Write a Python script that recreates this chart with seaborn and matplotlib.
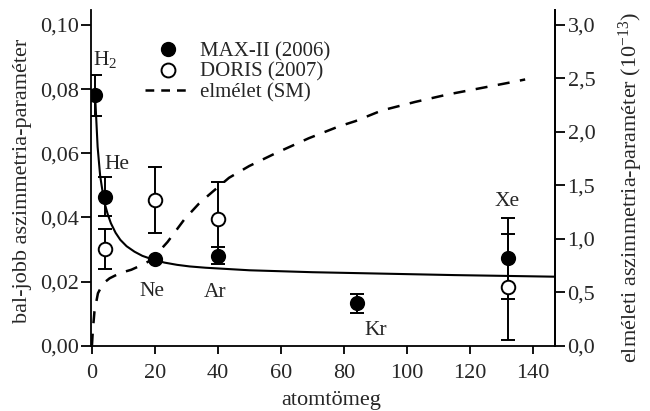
import numpy as np
import pandas as pd
import matplotlib
matplotlib.use("Agg")
import matplotlib.pyplot as plt
from matplotlib.ticker import FuncFormatter, MultipleLocator
from matplotlib.lines import Line2D
import seaborn as sns

# ---- data ----
max_mass = [1, 4, 20, 40, 84, 132]
max_val = [0.078, 0.0465, 0.027, 0.0281, 0.0132, 0.0272]
max_err = [0.0063, 0.006, 0.0, 0.0026, 0.003, 0.0125]

doris_mass = [4, 20, 40, 132]
doris_val = [0.0301, 0.0454, 0.0395, 0.0182]
doris_err = [0.0062, 0.0103, 0.0116, 0.0165]

fit_x = [1, 1.8, 2.6, 3.3, 4, 5, 6, 7.5, 9, 11, 13.5, 16, 19.5, 23, 27, 31, 36, 43,
         50, 60, 70, 85, 100, 115, 128, 147]
fit_y = [0.078, 0.062, 0.053, 0.0485, 0.0445, 0.0410, 0.0382, 0.0352, 0.0330, 0.0310,
         0.0293, 0.0280, 0.0268, 0.0259, 0.0252, 0.0247, 0.0243, 0.0239,
         0.0235, 0.0232, 0.0229, 0.0226, 0.0223, 0.0220, 0.0218, 0.0215]

sm_x = [0.0, 0.3, 0.8, 1.9, 3.5, 5.6, 9, 12.5, 15.5, 18.8, 24, 29.3, 34, 38.3, 43.5,
        49.9, 58.3, 68.8, 78.3, 83.6, 92, 102.6, 113, 123.6, 134.2, 137.5]
sm_y = [0.0, 0.15, 0.32, 0.49, 0.58, 0.63, 0.68, 0.71, 0.75, 0.80, 0.97, 1.18, 1.33, 1.44, 1.57,
        1.68, 1.80, 1.94, 2.05, 2.10, 2.20, 2.28, 2.35, 2.41, 2.47, 2.49]

labels = ["H$_2$", "He", "Ne", "Ar", "Kr", "Xe"]
label_x = [4.2, 8.0, 19.0, 39.0, 90.0, 131.8]
label_y = [0.0893, 0.0565, 0.0170, 0.0166, 0.0047, 0.0449]

xticks = [0, 20, 40, 60, 80, 100, 120, 140]

# ---- style ----
sns.set_theme(style="ticks")
plt.rcParams["font.family"] = ["Liberation Serif", "DejaVu Serif"]
plt.rcParams["mathtext.fontset"] = "custom"
plt.rcParams["mathtext.rm"] = "Liberation Serif"
plt.rcParams["mathtext.it"] = "Liberation Serif:italic"
TICK_FS = 16
LAB_FS = 16
LEG_FS = 15
ANN_FS = 15.5
TXT = "#262626"

fig = plt.figure(figsize=(6.5, 4.11), dpi=100)
ax = fig.add_axes([0.140, 0.159, 0.714, 0.817])
ax2 = ax.twinx()

fit_df = pd.DataFrame({"x": fit_x, "y": fit_y})
sm_df = pd.DataFrame({"x": sm_x, "y": sm_y})

sns.lineplot(data=fit_df, x="x", y="y", ax=ax, color="black", lw=1.5, sort=False, zorder=2)
sns.lineplot(data=sm_df, x="x", y="y", ax=ax2, color="black", lw=1.8, sort=False,
             dashes=False, zorder=2)
ax2.lines[-1].set_dashes([4.8, 4.2])

ax.errorbar(doris_mass, doris_val, yerr=doris_err, fmt="none", ecolor="black",
            elinewidth=1.4, capsize=5, capthick=1.4, zorder=3)
ax.errorbar(max_mass, max_val, yerr=max_err, fmt="none", ecolor="black",
            elinewidth=1.4, capsize=5, capthick=1.4, zorder=3)

sns.scatterplot(x=max_mass, y=max_val, ax=ax, color="black", s=95, marker="o",
                edgecolor="black", linewidth=1.2, zorder=4)
sns.scatterplot(x=doris_mass, y=doris_val, ax=ax, color="white", s=95, marker="o",
                edgecolor="black", linewidth=1.4, zorder=4)

for t, x, y in zip(labels, label_x, label_y):
    ax.text(x, y, t, ha="center", va="center", fontsize=ANN_FS, color=TXT)

# axes
ax.set_xlim(-0.3, 147)
ax.set_ylim(0, 0.1047)
ax2.set_ylim(0, 3.141)
ax.set_xticks(xticks)
ax.yaxis.set_major_locator(MultipleLocator(0.02))
ax2.yaxis.set_major_locator(MultipleLocator(0.5))
ax.yaxis.set_major_formatter(FuncFormatter(lambda v, p: f"{v:.2f}".replace(".", ",")))
ax2.yaxis.set_major_formatter(FuncFormatter(lambda v, p: f"{v:.1f}".replace(".", ",")))
ax.xaxis.set_major_formatter(FuncFormatter(lambda v, p: f"{v:.0f}"))

for a in (ax, ax2):
    a.spines["top"].set_visible(False)
    for s in a.spines.values():
        s.set_linewidth(1.3)
        s.set_color("black")
    a.tick_params(direction="out", length=7, width=1.3, labelsize=TICK_FS, colors="black",
                  labelcolor=TXT, pad=2)
ax.tick_params(axis="x", length=6, pad=7)
ax2.spines["left"].set_visible(False)
ax2.spines["bottom"].set_visible(False)

ax.set_xlabel("atomtömeg", fontsize=LAB_FS, color=TXT)
ax.set_ylabel("bal-jobb aszimmetria-paraméter", fontsize=LAB_FS, color=TXT)
ax2.set_ylabel("elméleti aszimmetria-paraméter (10$^{-13}$)", fontsize=LAB_FS, color=TXT)
ax.xaxis.set_label_coords(0.517, -0.136)
ax.yaxis.set_label_coords(-0.127, 0.49)
ax2.yaxis.set_label_coords(1.132, 0.47)

handles = [
    Line2D([], [], marker="o", color="black", ls="none", markersize=10),
    Line2D([], [], marker="o", markerfacecolor="white", markeredgecolor="black",
           markeredgewidth=1.4, ls="none", markersize=10),
    Line2D([], [], color="black", lw=1.8, dashes=[3.5, 2.8]),
]
leg = ax.legend(handles, ["MAX-II (2006)", "DORIS (2007)", "elmélet (SM)"],
                loc="upper left", bbox_to_anchor=(0.099, 0.93), frameon=False,
                fontsize=LEG_FS, handlelength=2.2, handletextpad=0.45, labelspacing=0.05,
                borderaxespad=0)
for t in leg.get_texts():
    t.set_color(TXT)

fig.savefig("out.png", dpi=100)
